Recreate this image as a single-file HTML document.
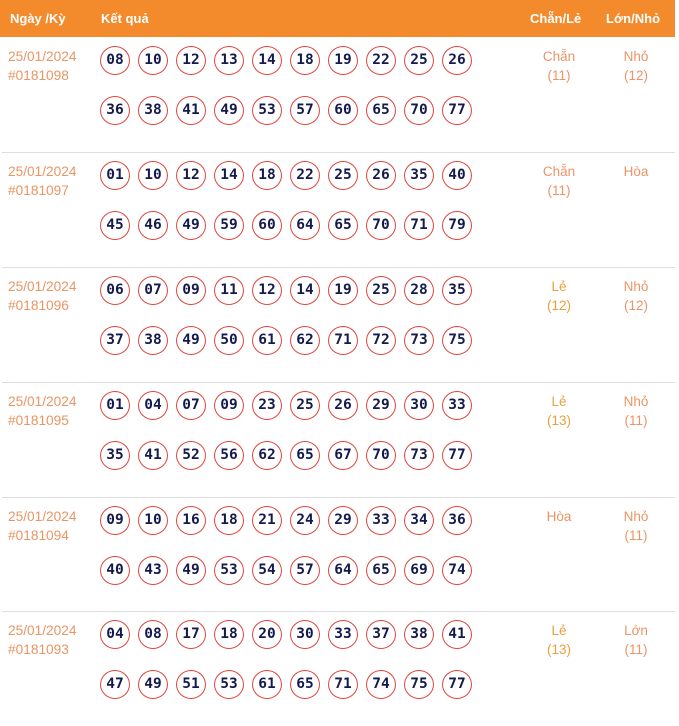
<!DOCTYPE html>
<html>
<head>
<meta charset="utf-8">
<style>
  html,body{margin:0;padding:0;background:#fff;}
  body{width:679px;height:719px;position:relative;overflow:hidden;font-family:"Liberation Sans","DejaVu Sans",sans-serif;}
  .hdr{position:absolute;left:0;top:0;width:675px;height:37px;background:#f38b2c;}
  .hdr div{position:absolute;top:0;line-height:37px;font-size:13px;font-weight:bold;color:#fff;white-space:nowrap;}
  .row{position:absolute;left:0;width:675px;height:115px;}
  .row.sep:before{content:"";position:absolute;left:2px;right:0;top:0;height:1px;background:#dedede;}
  .d{position:absolute;left:8px;top:10px;font-size:13.7px;line-height:19px;color:#e99564;white-space:nowrap;}
  .n{position:absolute;left:100px;display:flex;gap:8px;}
  .n.a{top:8.5px;}
  .n.b{top:58.5px;}
  .n span{box-sizing:border-box;width:30px;height:29px;border:1.2px solid #e0463f;border-radius:50%;display:flex;align-items:center;justify-content:center;font-family:"DejaVu Sans Mono","Liberation Mono",monospace;font-weight:bold;font-size:14.5px;color:#141a4c;}
  .c1,.c2{position:absolute;top:10px;width:80px;text-align:center;font-size:13.5px;line-height:19px;color:#ec9466;white-space:nowrap;}
  .c1{left:519px;}
  .c2{left:596px;}
  .le{color:#e9a03e;}
</style>
</head>
<body>
<div class="hdr">
  <div style="left:10px">Ngày /Kỳ</div>
  <div style="left:101px">Kết quả</div>
  <div style="left:530px">Chẵn/Lẻ</div>
  <div style="left:606px">Lớn/Nhỏ</div>
</div>

<div class="row" style="top:37px">
  <div class="d">25/01/2024<br>#0181098</div>
  <div class="n a"><span>08</span><span>10</span><span>12</span><span>13</span><span>14</span><span>18</span><span>19</span><span>22</span><span>25</span><span>26</span></div>
  <div class="n b"><span>36</span><span>38</span><span>41</span><span>49</span><span>53</span><span>57</span><span>60</span><span>65</span><span>70</span><span>77</span></div>
  <div class="c1">Chẵn<br>(11)</div>
  <div class="c2">Nhỏ<br>(12)</div>
</div>

<div class="row sep" style="top:152px">
  <div class="d">25/01/2024<br>#0181097</div>
  <div class="n a"><span>01</span><span>10</span><span>12</span><span>14</span><span>18</span><span>22</span><span>25</span><span>26</span><span>35</span><span>40</span></div>
  <div class="n b"><span>45</span><span>46</span><span>49</span><span>59</span><span>60</span><span>64</span><span>65</span><span>70</span><span>71</span><span>79</span></div>
  <div class="c1">Chẵn<br>(11)</div>
  <div class="c2">Hòa</div>
</div>

<div class="row sep" style="top:267px">
  <div class="d">25/01/2024<br>#0181096</div>
  <div class="n a"><span>06</span><span>07</span><span>09</span><span>11</span><span>12</span><span>14</span><span>19</span><span>25</span><span>28</span><span>35</span></div>
  <div class="n b"><span>37</span><span>38</span><span>49</span><span>50</span><span>61</span><span>62</span><span>71</span><span>72</span><span>73</span><span>75</span></div>
  <div class="c1 le">Lẻ<br>(12)</div>
  <div class="c2">Nhỏ<br>(12)</div>
</div>

<div class="row sep" style="top:382px">
  <div class="d">25/01/2024<br>#0181095</div>
  <div class="n a"><span>01</span><span>04</span><span>07</span><span>09</span><span>23</span><span>25</span><span>26</span><span>29</span><span>30</span><span>33</span></div>
  <div class="n b"><span>35</span><span>41</span><span>52</span><span>56</span><span>62</span><span>65</span><span>67</span><span>70</span><span>73</span><span>77</span></div>
  <div class="c1 le">Lẻ<br>(13)</div>
  <div class="c2">Nhỏ<br>(11)</div>
</div>

<div class="row sep" style="top:497px">
  <div class="d">25/01/2024<br>#0181094</div>
  <div class="n a"><span>09</span><span>10</span><span>16</span><span>18</span><span>21</span><span>24</span><span>29</span><span>33</span><span>34</span><span>36</span></div>
  <div class="n b"><span>40</span><span>43</span><span>49</span><span>53</span><span>54</span><span>57</span><span>64</span><span>65</span><span>69</span><span>74</span></div>
  <div class="c1">Hòa</div>
  <div class="c2">Nhỏ<br>(11)</div>
</div>

<div class="row sep" style="top:611px">
  <div class="d">25/01/2024<br>#0181093</div>
  <div class="n a"><span>04</span><span>08</span><span>17</span><span>18</span><span>20</span><span>30</span><span>33</span><span>37</span><span>38</span><span>41</span></div>
  <div class="n b"><span>47</span><span>49</span><span>51</span><span>53</span><span>61</span><span>65</span><span>71</span><span>74</span><span>75</span><span>77</span></div>
  <div class="c1 le">Lẻ<br>(13)</div>
  <div class="c2">Lớn<br>(11)</div>
</div>
</body>
</html>
